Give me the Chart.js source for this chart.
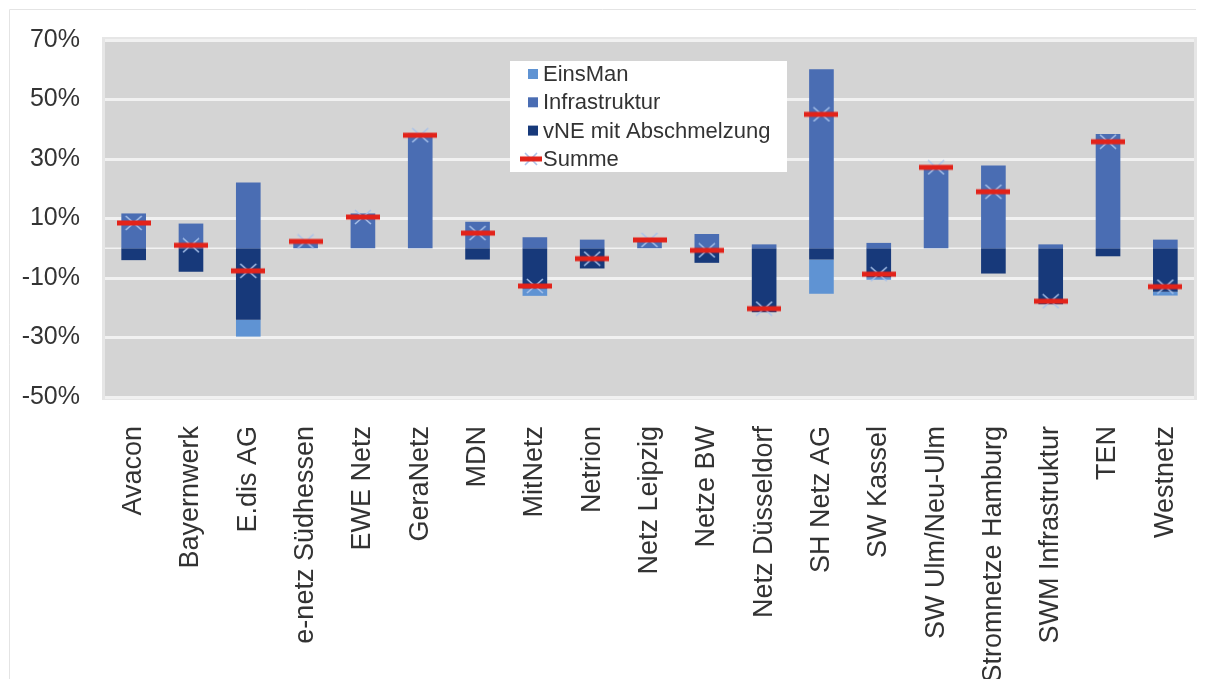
<!DOCTYPE html>
<html>
<head>
<meta charset="utf-8">
<script src="https://cdn.jsdelivr.net/npm/chart.js@4/dist/chart.umd.min.js"></script>
<style>
  html, body { margin: 0; padding: 0; background: #fff; }
  #wrap { position: relative; width: 1205px; height: 679px; }
</style>
</head>
<body>
<div id="wrap"><canvas id="netzChart" width="1205" height="679"></canvas></div>
<script>
// Netzbetreiber
var netzbetreiber = ["Avacon", "Bayernwerk", "E.dis AG", "e-netz Südhessen", "EWE Netz", "GeraNetz",
  "MDN", "MitNetz", "Netrion", "Netz Leipzig", "Netze BW", "Netz Düsseldorf", "SH Netz AG",
  "SW Kassel", "SW Ulm/Neu-Ulm", "Stromnetze Hamburg", "SWM Infrastruktur", "TEN", "Westnetz"];

// Veränderung in %
var infrastruktur = [11.7, 8.3, 22.1, 2.3, 11.7, 38.6, 8.9, 3.7, 2.9, 3.3, 4.8, 1.3, 60.2, 1.8, 27.2, 27.8, 1.3, 38.4, 2.9];
var vneAbschmelzung = [-4.0, -7.9, -24.0, 0, 0, 0, -3.8, -13.5, -6.8, 0, -4.9, -21.5, -3.8, -9.8, 0, -8.5, -18.8, -2.7, -14.6];
var einsMan = [0, 0, -5.7, 0, 0, 0, 0, -2.5, 0, 0, 0, 0, -11.5, -0.8, 0, 0, 0, 0, -1.3];
var summe = [8.5, 1.0, -7.6, 2.3, 10.5, 38.0, 5.1, -12.7, -3.5, 2.8, -0.7, -20.3, 45.0, -8.7, 27.2, 19.0, -17.8, 35.8, -12.9];

var yTicks = [-50, -30, -10, 10, 30, 50, 70];

var farbeEinsMan = "#5f93d3";
var farbeInfra = "#4a6db3";
var farbeVne = "#17397a";
var farbeSumme = "#e2231a";
var farbeKreuz = "#a9c2ea";

// Marker fuer die Summe: rote Linie ueber hellblauem Kreuz
function summenMarker(w, kx, ky) {
  var c = document.createElement("canvas");
  c.width = w; c.height = 16;
  var g = c.getContext("2d");
  var cx = w / 2;
  g.strokeStyle = farbeKreuz;
  g.lineWidth = 1.6;
  g.beginPath();
  g.moveTo(cx - kx, 8 - ky); g.lineTo(cx + kx, 8 + ky);
  g.moveTo(cx + kx, 8 - ky); g.lineTo(cx - kx, 8 + ky);
  g.stroke();
  g.fillStyle = farbeSumme;
  g.fillRect(0, 5.5, w, 5);
  return c;
}
var markerGross = summenMarker(34, 8, 7);
var markerKlein = summenMarker(22, 6, 6);

Chart.defaults.font.family = "'Liberation Sans', Arial, sans-serif";
Chart.defaults.color = "#333";

var plotHintergrund = {
  id: "plotHintergrund",
  beforeDraw: function (chart) {
    var ctx = chart.ctx, a = chart.chartArea;
    ctx.save();
    ctx.strokeStyle = "#e4e4e4";
    ctx.lineWidth = 1;
    ctx.beginPath();
    ctx.moveTo(9.5, 700); ctx.lineTo(9.5, 9.5); ctx.lineTo(1196, 9.5);
    ctx.stroke();
    ctx.fillStyle = "#d4d4d4";
    ctx.fillRect(a.left, a.top, a.right - a.left, a.bottom - a.top);
    ctx.strokeStyle = "#e6e6e6";
    ctx.lineWidth = 3;
    ctx.strokeRect(a.left - 1.5, a.top - 1.5, a.right - a.left + 3, a.bottom - a.top + 3);
    ctx.restore();
  },
  beforeDatasetsDraw: function (chart) {
    // Nulllinie
    var ctx = chart.ctx, a = chart.chartArea;
    var y0 = chart.scales.y.getPixelForValue(0);
    ctx.save();
    ctx.strokeStyle = "#f2f2f2";
    ctx.lineWidth = 1.5;
    ctx.beginPath();
    ctx.moveTo(a.left, y0);
    ctx.lineTo(a.right, y0);
    ctx.stroke();
    ctx.restore();
  }
};

var legendeBox = {
  id: "legendeBox",
  afterDraw: function (chart) {
    var ctx = chart.ctx, a = chart.chartArea;
    var x = a.left + 405, y = a.top + 21;
    var eintraege = [
      { text: "EinsMan", farbe: farbeEinsMan },
      { text: "Infrastruktur", farbe: farbeInfra },
      { text: "vNE mit Abschmelzung", farbe: farbeVne },
      { text: "Summe", bild: markerKlein }
    ];
    ctx.save();
    ctx.fillStyle = "#fff";
    ctx.fillRect(x, y, 277, 111);
    ctx.font = "22px 'Liberation Sans', Arial, sans-serif";
    ctx.textBaseline = "middle";
    eintraege.forEach(function (e, i) {
      var ym = y + 13 + i * 28.3;
      if (e.bild) {
        ctx.drawImage(e.bild, x + 10, ym - 8);
      } else {
        ctx.fillStyle = e.farbe;
        ctx.fillRect(x + 18, ym - 5, 10, 10);
      }
      ctx.fillStyle = "#333";
      ctx.fillText(e.text, x + 33, ym + 1);
    });
    ctx.restore();
  }
};

new Chart(document.getElementById("netzChart"), {
  data: {
    labels: netzbetreiber,
    datasets: [
      { type: "line", label: "Summe", data: summe, showLine: false,
        pointStyle: markerGross, pointRadius: 10, order: 0 },
      { type: "bar", label: "Infrastruktur", data: infrastruktur, backgroundColor: farbeInfra, stack: "s", order: 1 },
      { type: "bar", label: "vNE mit Abschmelzung", data: vneAbschmelzung, backgroundColor: farbeVne, stack: "s", order: 1 },
      { type: "bar", label: "EinsMan", data: einsMan, backgroundColor: farbeEinsMan, stack: "s", order: 1 }
    ]
  },
  options: {
    responsive: false,
    animation: false,
    layout: { padding: { top: 37, right: 5, left: 0, bottom: 0 } },
    datasets: { bar: { barPercentage: 0.43, categoryPercentage: 1 } },
    plugins: {
      legend: { display: false },
      tooltip: { enabled: false }
    },
    scales: {
      x: {
        stacked: true,
        grid: { display: false },
        border: { display: false },
        ticks: {
          autoSkip: false, minRotation: 90, maxRotation: 90, padding: 21,
          font: { size: 27 }, color: "#333"
        },
        afterFit: function (s) {
          s.height = 282;
          s.paddingLeft = 0;
          s.paddingRight = 0;
        }
      },
      y: {
        stacked: true,
        min: -50, max: 70,
        afterBuildTicks: function (s) { s.ticks = yTicks.map(function (v) { return { value: v }; }); },
        grid: { color: "#f1f1f1", lineWidth: 3, drawTicks: false },
        border: { display: false },
        ticks: {
          padding: 25, font: { size: 25 }, color: "#333",
          callback: function (v) { return v + "%"; }
        },
        afterFit: function (s) { s.width = 105; }
      }
    }
  },
  plugins: [plotHintergrund, legendeBox]
});
</script>
</body>
</html>
